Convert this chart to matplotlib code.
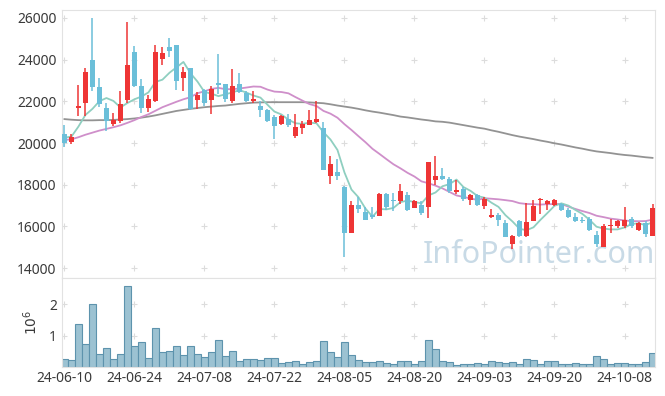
import matplotlib
matplotlib.use("Agg")
import matplotlib.pyplot as plt
import numpy as np
import pandas as pd

# daily OHLC (KRW)
opens = [20450, 20050, 21700, 21900, 24000, 22700, 21700, 20900, 21050, 22050,
         24350, 22750, 21700, 22000, 24050, 24600, 24700, 23100, 23600, 22050,
         22550, 22050, 22900, 22850, 22000, 22850, 22400, 22000, 21800, 21600,
         21250, 20900, 21150, 20350, 20700, 20850, 21000, 20700, 18400, 18600,
         17900, 15700, 17050, 16700, 16550, 16500, 17550, 17250, 17200, 17500,
         16900, 17050, 16950, 18250, 18400, 18300, 17650, 17800, 17250, 17500,
         17000, 16450, 16550, 16150, 15150, 16250, 15550, 16250, 17250, 17100,
         17050, 17100, 16800, 16450, 16300, 16350, 15600, 15000, 16000, 16000,
         16000, 16350, 15850, 16150, 15550]
highs = [20850, 20450, 22800, 23600, 26000, 23100, 21900, 21450, 22500, 25800,
         24650, 23050, 22300, 24700, 24600, 25050, 24700, 23650, 23600, 22450,
         22600, 22750, 24250, 22850, 23550, 23350, 22500, 22500, 22000, 21650,
         21350, 21350, 21400, 21400, 21050, 21600, 22000, 21000, 19400, 19250,
         17950, 17200, 17400, 16950, 16950, 17600, 17600, 17600, 18050, 17650,
         17250, 17200, 19100, 19400, 18800, 18350, 18250, 17900, 17550, 17550,
         17400, 16850, 16650, 16300, 15600, 16300, 17150, 17250, 17350, 17250,
         17300, 17150, 16900, 16650, 16450, 16450, 15800, 16100, 16350, 16300,
         16950, 16450, 16200, 16250, 17100]
lows = [19800, 19950, 21300, 21300, 22500, 21750, 20600, 20800, 20950, 21900,
        22700, 21450, 21500, 21950, 23750, 24150, 22550, 22500, 21600, 21650,
        21800, 21400, 22350, 21950, 21900, 22400, 21950, 21900, 21250, 21000,
        20200, 20850, 20750, 20250, 20450, 20850, 20950, 18700, 18050, 18250,
        14550, 15700, 16650, 16300, 16350, 16500, 16800, 16750, 17100, 16750,
        16900, 16550, 16400, 18000, 18250, 17600, 17550, 17200, 17050, 17000,
        16850, 16400, 16000, 15500, 14900, 15500, 15500, 16250, 16600, 16800,
        17000, 16750, 16400, 16200, 16150, 15800, 15000, 15000, 15700, 15950,
        15950, 15950, 15800, 15500, 15550]
closes = [20000, 20300, 21800, 23400, 22700, 21850, 21050, 21100, 21850, 23750,
          22750, 21700, 22100, 24350, 24300, 24400, 23000, 23400, 21650, 22300,
          21900, 22600, 22800, 22100, 22750, 22450, 22000, 22100, 21600, 21050,
          20800, 21300, 20850, 20750, 20900, 21100, 21150, 18700, 19000, 18400,
          15700, 17050, 16850, 16300, 16450, 17550, 16950, 17200, 17700, 16800,
          17200, 16650, 19100, 18400, 18300, 17700, 17750, 17300, 17500, 17050,
          17300, 16550, 16300, 15500, 15550, 15550, 16200, 17000, 17300, 17200,
          17250, 16800, 16450, 16250, 16250, 15850, 15150, 16000, 16050, 16250,
          16300, 16000, 16150, 15650, 16900]
volume = [0.25, 0.23, 1.36, 0.73, 2.02, 0.41, 0.60, 0.25, 0.41, 2.57,
          0.66, 0.79, 0.28, 1.23, 0.47, 0.51, 0.69, 0.38, 0.69, 0.41,
          0.32, 0.47, 0.85, 0.35, 0.51, 0.19, 0.25, 0.25, 0.22, 0.28,
          0.28, 0.13, 0.16, 0.19, 0.09, 0.16, 0.19, 0.82, 0.47, 0.32,
          0.80, 0.38, 0.23, 0.16, 0.16, 0.19, 0.13, 0.09, 0.19, 0.19,
          0.09, 0.19, 0.88, 0.57, 0.19, 0.16, 0.06, 0.09, 0.09, 0.13,
          0.09, 0.19, 0.16, 0.13, 0.16, 0.09, 0.25, 0.22, 0.09, 0.19,
          0.19, 0.09, 0.09, 0.13, 0.09, 0.09, 0.35, 0.25, 0.09, 0.13,
          0.13, 0.09, 0.09, 0.16, 0.44]  # millions

# moving average values before the window is full (earlier data not shown)
ma5_head = [20260, 20310, 20790, 21350]
ma20_head = [20150, 20180, 20280, 20400, 20500, 20600, 20680, 20760, 20850, 20970,
             21100, 21250, 21380, 21550, 21720, 21850, 21980, 22100, 22200]
# long moving average
ma_long = [21150, 21120, 21100, 21090, 21090, 21100, 21100, 21110, 21130, 21150,
           21180, 21220, 21270, 21330, 21400, 21470, 21540, 21590, 21640, 21680,
           21720, 21750, 21780, 21800, 21840, 21880, 21910, 21940, 21950, 21960,
           21960, 21960, 21960, 21960, 21960, 21950, 21930, 21910, 21860, 21800,
           21750, 21700, 21640, 21570, 21510, 21460, 21400, 21340, 21270, 21230,
           21180, 21130, 21090, 21040, 21020, 20980, 20920, 20860, 20800, 20740,
           20690, 20610, 20540, 20460, 20380, 20310, 20250, 20190, 20120, 20060,
           19990, 19930, 19860, 19790, 19730, 19660, 19600, 19560, 19520, 19470,
           19430, 19400, 19360, 19320, 19290]

tick_labels = ["24-06-10", "24-06-24", "24-07-08", "24-07-22", "24-08-05",
               "24-08-20", "24-09-03", "24-09-20", "24-10-08"]

plt.rcParams['font.family'] = ['Noto Sans', 'DejaVu Sans']

df = pd.DataFrame({"open": opens, "high": highs, "low": lows, "close": closes})
x = np.arange(len(df))
ma5 = df["close"].rolling(5).mean().to_numpy()
ma5[:4] = ma5_head
ma20 = df["close"].rolling(20).mean().to_numpy()
ma20[:19] = ma20_head

up = df["close"] >= df["open"]
col = np.where(up, "#ee3535", "#6bbfd9")

fig = plt.figure(figsize=(6.65, 3.96), dpi=100)
ax = fig.add_axes([0.0932, 0.298, 0.8917, 0.6767])
axv = fig.add_axes([0.0932, 0.0725, 0.8917, 0.2255], sharex=ax)

frame = "#e2e2e2"
txt = "#3a3a3a"

# watermark
ax.text(0.805, 0.085, "InfoPointer.com", transform=ax.transAxes, fontsize=22,
        color="#c8dae6", ha="center", va="center", zorder=0)

# grid crosses
xt = np.arange(0, 81, 10)
yt = np.arange(14000, 26001, 2000)
gx, gy = np.meshgrid(xt, yt)
ax.scatter(gx.ravel(), gy.ravel(), marker="+", s=18, c="#dcdcdc", lw=0.8, zorder=1)

ax.plot(x, ma_long, color="#939393", lw=1.3, zorder=2)
ax.plot(x, ma20, color="#cf8fca", lw=1.3, zorder=2)
ax.plot(x, ma5, color="#8fcfc0", lw=1.3, zorder=2)

ax.vlines(x, df["low"], df["high"], colors=col, lw=1.1, zorder=3)
body = np.maximum((df["close"] - df["open"]).abs(), 60)
ax.bar(x, body, bottom=np.minimum(df["open"], df["close"]), width=0.66,
       color=col, zorder=4)

ax.set_xlim(-0.35, 84.35)
ax.set_ylim(13530, 26380)
ax.set_yticks(yt)
ax.tick_params(axis="y", length=0, labelsize=10, colors=txt, pad=4)
ax.tick_params(axis="x", length=0, labelbottom=False)
for s in ax.spines.values():
    s.set_color(frame)

# volume panel
vgx, vgy = np.meshgrid(xt, [1, 2])
axv.scatter(vgx.ravel(), vgy.ravel(), marker="+", s=18, c="#dcdcdc", lw=0.8, zorder=1)
axv.bar(x, volume, width=1.0, color="#9cc2d2", edgecolor="#5d93ad", lw=0.8, zorder=2)
axv.set_ylim(0, 2.83)
axv.set_yticks([1, 2])
axv.set_yticklabels(["1", "2"])
axv.set_ylabel(r"$10^6$", color=txt, fontsize=10, labelpad=6)
axv.set_xticks(xt)
axv.set_xticklabels(tick_labels)
axv.tick_params(length=0, labelsize=10, colors=txt)
axv.tick_params(axis="x", pad=3)
for s in axv.spines.values():
    s.set_color(frame)

fig.savefig("out.png", dpi=100)
